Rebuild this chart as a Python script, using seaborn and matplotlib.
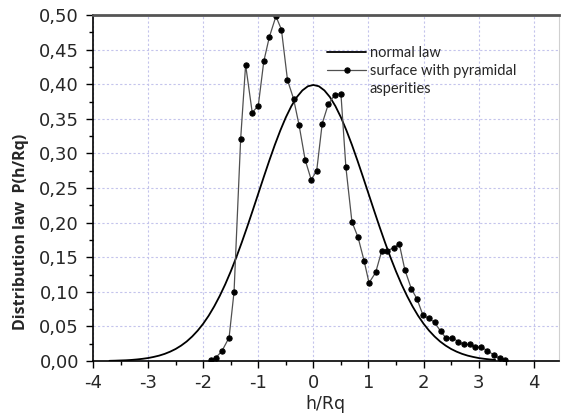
import matplotlib
matplotlib.use("Agg")
import matplotlib.pyplot as plt
from matplotlib.lines import Line2D
from matplotlib.ticker import MultipleLocator, FuncFormatter
import seaborn as sns

# Normal (Gaussian) law, P(h/Rq)
h_norm = [-3.7, -3.6, -3.5, -3.4, -3.3, -3.2, -3.1, -3.0, -2.9, -2.8,
          -2.7, -2.6, -2.5, -2.4, -2.3, -2.2, -2.1, -2.0, -1.9, -1.8,
          -1.7, -1.6, -1.5, -1.4, -1.3, -1.2, -1.1, -1.0, -0.9, -0.8,
          -0.7, -0.6, -0.5, -0.4, -0.3, -0.2, -0.1, 0.0, 0.1, 0.2,
          0.3, 0.4, 0.5, 0.6, 0.7, 0.8, 0.9, 1.0, 1.1, 1.2,
          1.3, 1.4, 1.5, 1.6, 1.7, 1.8, 1.9, 2.0, 2.1, 2.2,
          2.3, 2.4, 2.5, 2.6, 2.7, 2.8, 2.9, 3.0, 3.1, 3.2, 3.3]
p_norm = [0.0004, 0.0006, 0.0009, 0.0012, 0.0017, 0.0024, 0.0033, 0.0044, 0.0060, 0.0079,
          0.0104, 0.0136, 0.0175, 0.0224, 0.0283, 0.0355, 0.0440, 0.0540, 0.0656, 0.0790,
          0.0941, 0.1109, 0.1295, 0.1497, 0.1714, 0.1942, 0.2179, 0.2420, 0.2661, 0.2897,
          0.3123, 0.3332, 0.3521, 0.3683, 0.3814, 0.3910, 0.3970, 0.3989, 0.3970, 0.3910,
          0.3814, 0.3683, 0.3521, 0.3332, 0.3123, 0.2897, 0.2661, 0.2420, 0.2179, 0.1942,
          0.1714, 0.1497, 0.1295, 0.1109, 0.0941, 0.0790, 0.0656, 0.0540, 0.0440, 0.0355,
          0.0283, 0.0224, 0.0175, 0.0136, 0.0104, 0.0079, 0.0060, 0.0044, 0.0033, 0.0024, 0.0017]

# Measured height distribution of the surface with pyramidal asperities
h_surf = [-1.86, -1.77, -1.66, -1.53, -1.44, -1.32, -1.23, -1.11, -1.00, -0.90,
          -0.80, -0.68, -0.58, -0.47, -0.36, -0.26, -0.15, -0.04, 0.06, 0.16,
          0.27, 0.39, 0.50, 0.59, 0.70, 0.81, 0.92, 1.01, 1.13, 1.24,
          1.34, 1.46, 1.56, 1.66, 1.78, 1.88, 1.99, 2.09, 2.20, 2.31,
          2.41, 2.52, 2.63, 2.73, 2.84, 2.94, 3.05, 3.16, 3.27, 3.38, 3.48]
p_surf = [0.0015, 0.005, 0.0145, 0.034, 0.100, 0.321, 0.428, 0.359, 0.369, 0.433,
          0.468, 0.498, 0.479, 0.406, 0.379, 0.341, 0.291, 0.262, 0.275, 0.343,
          0.371, 0.385, 0.386, 0.280, 0.201, 0.179, 0.145, 0.113, 0.128, 0.159,
          0.159, 0.164, 0.169, 0.132, 0.104, 0.090, 0.066, 0.062, 0.056, 0.043,
          0.033, 0.034, 0.028, 0.024, 0.024, 0.020, 0.020, 0.015, 0.009, 0.004, 0.001]

x_ticks = [-4, -3, -2, -1, 0, 1, 2, 3, 4]

sns.set_theme(style="white")
plt.rcParams["font.family"] = ["DejaVu Sans"]
plt.rcParams["axes.unicode_minus"] = False

fig = plt.figure(figsize=(5.65, 4.16), dpi=100)
ax = fig.add_axes([0.1646, 0.132, 0.824, 0.832])

sns.lineplot(x=h_norm, y=p_norm, ax=ax, color="black", linewidth=1.3,
             sort=False, label="normal law")
sns.lineplot(x=h_surf, y=p_surf, ax=ax, color="#505050", linewidth=0.9,
             sort=False, marker="o", markersize=3.8, markerfacecolor="black",
             markeredgecolor="black", label="surface with pyramidal")

ax.set_xlim(-4, 4.45)
ax.set_ylim(0, 0.5)
ax.set_xticks(x_ticks)
ax.xaxis.set_minor_locator(MultipleLocator(0.5))
ax.yaxis.set_major_locator(MultipleLocator(0.05))
ax.yaxis.set_minor_locator(MultipleLocator(0.025))
ax.yaxis.set_major_formatter(FuncFormatter(lambda v, _: f"{v:.2f}".replace(".", ",")))
ax.xaxis.set_major_formatter(FuncFormatter(lambda v, _: f"{v:.0f}"))

ax.grid(True, which="major", color="#c4c4ec", linestyle=(0, (2, 2)), linewidth=0.8)
ax.tick_params(which="major", direction="out", length=5, width=1, color="black",
               labelsize=13, bottom=True, left=True)
ax.tick_params(axis="y", which="major", pad=5)
ax.tick_params(axis="x", which="major", pad=4)
ax.tick_params(which="minor", direction="out", length=3, width=1, color="black",
               bottom=True, left=True)

for side in ("left", "bottom"):
    ax.spines[side].set_color("black")
    ax.spines[side].set_linewidth(1.2)
ax.spines["top"].set_color("#555555")
ax.spines["top"].set_linewidth(2.0)
ax.spines["right"].set_color("#d0d0d0")
ax.spines["right"].set_linewidth(0.8)

ax.set_xlabel("h/Rq", fontsize=12.5, labelpad=2.5)
ax.set_ylabel("Distribution law  P(h/Rq)", fontsize=11.5, fontweight="bold",
              family="Open Sans")
ax.yaxis.set_label_coords(-0.137, 0.374)

handles, labels = ax.get_legend_handles_labels()
handles.append(Line2D([], [], linestyle="none"))
labels.append("asperities")
ax.legend(handles, labels, loc="upper left", bbox_to_anchor=(0.49, 0.928),
          frameon=False, handlelength=2.7, handletextpad=0.25,
          labelspacing=0.3, borderaxespad=0, prop={"family": "Lato", "size": 10.5})

fig.savefig("out.png", dpi=100)
